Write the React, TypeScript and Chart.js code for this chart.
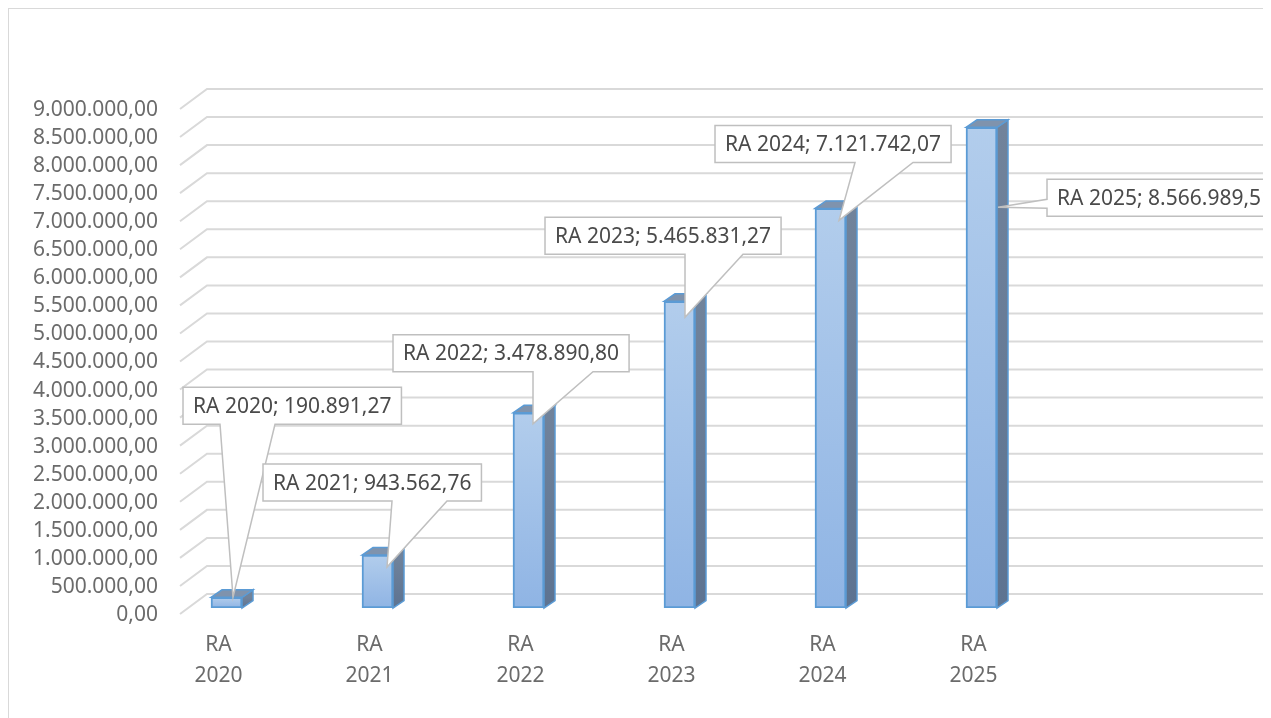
import React, { useEffect, useRef } from 'react';
import { Chart, registerables } from 'chart.js';

Chart.register(...registerables);

// ---- data ----
const categories = ['RA 2020', 'RA 2021', 'RA 2022', 'RA 2023', 'RA 2024', 'RA 2025'];
const values = [190891.27, 943562.76, 3478890.8, 5465831.27, 7121742.07, 8566989.51];
const yMin = 0;
const yMax = 9000000;
const yStep = 500000;

// ---- callout layout (relative to each bar's front top centre) ----
const calloutBoxDx = [-43.5, -114.5, -135.5, -134.5, -115.5, 65.5];
const calloutBoxDy = [-210, -91, -78, -84, -83, 52];
const calloutSide = ['bottom', 'bottom', 'bottom', 'bottom', 'bottom', 'left'];
const calloutBaseA = [37, 129, 140, 140, 140, 20];
const calloutBaseB = [92, 184, 200, 198, 198, 29];
const calloutTipDx = [6.5, 9.5, 4.5, 5.5, 8.5, 16.5];
const calloutTipDy = [0, 12, 11, 16, 12, 80];

const FONT = "'Noto Sans', sans-serif";
const FONT_SIZE = 21;
const DEPTH_X = 11;
const DEPTH_Y = -7.5;

function fmt(v: number): string {
  const fixed = v.toFixed(2);
  const [i, d] = fixed.split('.');
  return i.replace(/\B(?=(\d{3})+(?!\d))/g, '.') + ',' + d;
}

const gridPlugin = {
  id: 'grid3d',
  beforeDatasetsDraw(chart: any) {
    const { ctx, chartArea } = chart;
    const y = chart.scales.y;
    const left = chartArea.left;
    const right = chart.width - 40;
    ctx.save();
    ctx.strokeStyle = '#d9d9d9';
    ctx.lineWidth = 2;
    y.ticks.forEach((t: any) => {
      const py = y.getPixelForValue(t.value);
      ctx.beginPath();
      ctx.moveTo(left, py + 6);
      ctx.lineTo(left + 27, py - 14);
      ctx.lineTo(right, py - 14);
      ctx.stroke();
    });
    ctx.restore();
  },
};

const bar3dPlugin = {
  id: 'bar3d',
  afterDatasetsDraw(chart: any) {
    const { ctx } = chart;
    const meta = chart.getDatasetMeta(0);
    ctx.save();
    meta.data.forEach((el: any) => {
      const { x, y, base, width } = el.getProps(['x', 'y', 'base', 'width'], true);
      const l = x - width / 2;
      const r = x + width / 2;
      // side face
      const sg = ctx.createLinearGradient(0, y, 0, base);
      sg.addColorStop(0, '#71839b');
      sg.addColorStop(1, '#5d7391');
      ctx.beginPath();
      ctx.moveTo(r, y);
      ctx.lineTo(r + DEPTH_X, y + DEPTH_Y);
      ctx.lineTo(r + DEPTH_X, base + DEPTH_Y);
      ctx.lineTo(r, base);
      ctx.closePath();
      ctx.fillStyle = sg;
      ctx.fill();
      ctx.strokeStyle = '#5b9bd5';
      ctx.lineWidth = 1.5;
      ctx.stroke();
      // top face
      ctx.beginPath();
      ctx.moveTo(l, y);
      ctx.lineTo(l + DEPTH_X, y + DEPTH_Y);
      ctx.lineTo(r + DEPTH_X, y + DEPTH_Y);
      ctx.lineTo(r, y);
      ctx.closePath();
      ctx.fillStyle = '#7f93ad';
      ctx.fill();
      ctx.stroke();
    });
    ctx.restore();
  },
};

const calloutPlugin = {
  id: 'callouts',
  afterDraw(chart: any) {
    const { ctx } = chart;
    const meta = chart.getDatasetMeta(0);
    ctx.save();
    ctx.font = `${FONT_SIZE}px ${FONT}`;
    meta.data.forEach((el: any, i: number) => {
      const { x, y } = el.getProps(['x', 'y'], true);
      const text = `${categories[i]}; ${fmt(values[i])}`;
      const tw = ctx.measureText(text).width;
      const bl = x + calloutBoxDx[i];
      const bt = y + calloutBoxDy[i];
      const bw = tw + 20;
      const bh = 37;
      const br = bl + bw;
      const bb = bt + bh;
      const tx = x + calloutTipDx[i];
      const ty = y + calloutTipDy[i];
      ctx.beginPath();
      if (calloutSide[i] === 'bottom') {
        ctx.moveTo(bl, bt);
        ctx.lineTo(br, bt);
        ctx.lineTo(br, bb);
        ctx.lineTo(bl + calloutBaseB[i], bb);
        ctx.lineTo(tx, ty);
        ctx.lineTo(bl + calloutBaseA[i], bb);
        ctx.lineTo(bl, bb);
        ctx.closePath();
      } else {
        ctx.moveTo(bl, bt);
        ctx.lineTo(br, bt);
        ctx.lineTo(br, bb);
        ctx.lineTo(bl, bb);
        ctx.lineTo(bl, bt + calloutBaseB[i]);
        ctx.lineTo(tx, ty);
        ctx.lineTo(bl, bt + calloutBaseA[i]);
        ctx.closePath();
      }
      ctx.fillStyle = '#ffffff';
      ctx.fill();
      ctx.strokeStyle = '#bfbfbf';
      ctx.lineWidth = 1.5;
      ctx.stroke();
      ctx.fillStyle = '#4a4a4a';
      ctx.textAlign = 'left';
      ctx.textBaseline = 'middle';
      ctx.fillText(text, bl + 10, bt + bh / 2 + 1);
    });
    ctx.restore();
  },
};

export default function App() {
  const ref = useRef<HTMLCanvasElement | null>(null);

  useEffect(() => {
    document.documentElement.style.overflow = 'hidden';
    document.body.style.overflow = 'hidden';
    if (!ref.current) return;
    Chart.defaults.font.family = FONT;
    const chart = new Chart(ref.current, {
      type: 'bar',
      data: {
        datasets: [
          {
            data: values.map((v, i) => ({ x: i, y: v })),
            barThickness: 31,
            borderWidth: 2,
            borderColor: '#5b9bd5',
            borderSkipped: false,
            backgroundColor: (c: any) => {
              const chartRef = c.chart;
              const area = chartRef.chartArea;
              if (!area || !chartRef.scales.y || c.parsed == null) return '#a3c2e9';
              const ys = chartRef.scales.y;
              const top = ys.getPixelForValue(c.parsed.y);
              const bot = ys.getPixelForValue(0);
              if (!isFinite(top) || !isFinite(bot) || top === bot) return '#a3c2e9';
              const g = chartRef.ctx.createLinearGradient(0, top, 0, bot);
              g.addColorStop(0, '#b2cdec');
              g.addColorStop(1, '#8fb4e4');
              return g;
            },
          },
        ],
      },
      options: {
        responsive: false,
        animation: false,
        layout: { padding: { top: 94, right: 70, bottom: 0, left: 0 } },
        plugins: {
          legend: { display: false },
          tooltip: { enabled: false },
          title: { display: false },
        },
        scales: {
          x: {
            type: 'linear',
            offset: false,
            min: -0.308,
            max: 6.692,
            grid: { display: false, drawTicks: false, offset: false },
            border: { display: false },
            afterBuildTicks: (scale: any) => {
              scale.ticks = categories.map((_, i) => ({ value: i }));
            },
            afterFit: (scale: any) => {
              scale.height = 119;
            },
            ticks: {
              autoSkip: false,
              maxRotation: 0,
              minRotation: 0,
              padding: 22,
              labelOffset: -8,
              color: '#6b6b6b',
              font: { size: FONT_SIZE, family: FONT, lineHeight: 1.45 },
              callback: (_v: any, index: number) => categories[index].split(' '),
            },
          },
          y: {
            min: yMin,
            max: yMax,
            grid: { display: false, drawTicks: false },
            border: { display: false },
            afterFit: (scale: any) => {
              scale.width = 171;
            },
            ticks: {
              stepSize: yStep,
              autoSkip: false,
              padding: 22,
              labelOffset: 7,
              color: '#6b6b6b',
              font: { size: FONT_SIZE, family: FONT },
              callback: (v: any) => fmt(Number(v)),
            },
          },
        },
      },
      plugins: [gridPlugin, bar3dPlugin, calloutPlugin],
    } as any);
    return () => chart.destroy();
  }, []);

  return (
    <div
      style={{
        width: 1300,
        height: 720,
        border: '1px solid #d9d9d9',
        boxSizing: 'border-box',
        overflow: 'hidden',
        background: '#ffffff',
      }}
    >
      <canvas ref={ref} width={1298} height={718} style={{ display: 'block' }} />
    </div>
  );
}
